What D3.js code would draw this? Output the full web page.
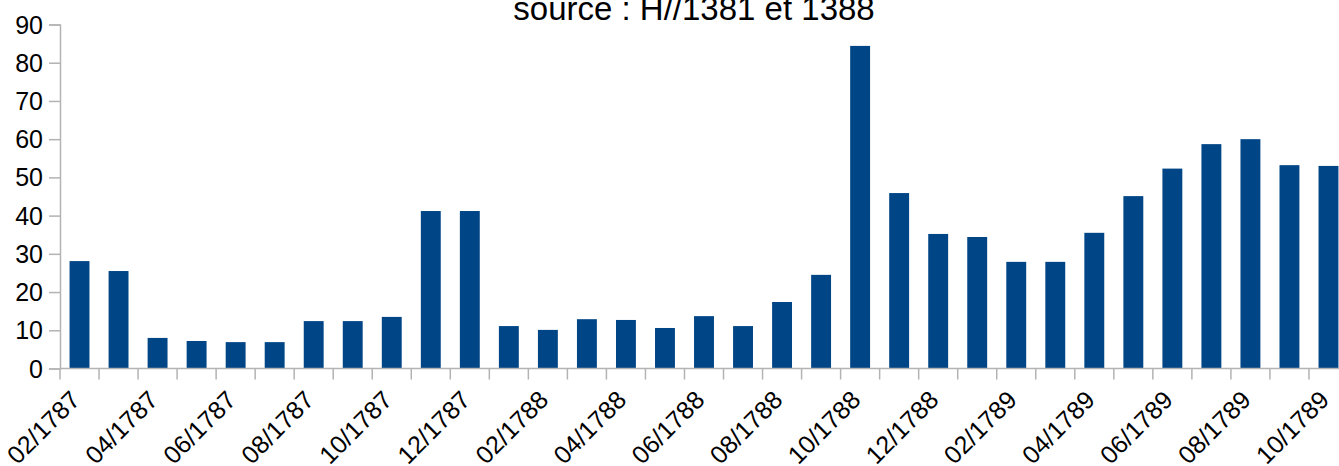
<!DOCTYPE html>
<html><head><meta charset="utf-8">
<script src="https://cdn.jsdelivr.net/npm/d3@7"></script>
<style>body{margin:0;background:#fff;overflow:hidden;} text{font-family:"Liberation Sans",Arial,sans-serif;}</style>
</head><body>
<svg id="c" width="1339" height="466"></svg>
<script>
const months = ["02/1787","03/1787","04/1787","05/1787","06/1787","07/1787","08/1787","09/1787","10/1787","11/1787","12/1787",
"01/1788","02/1788","03/1788","04/1788","05/1788","06/1788","07/1788","08/1788","09/1788","10/1788","11/1788","12/1788",
"01/1789","02/1789","03/1789","04/1789","05/1789","06/1789","07/1789","08/1789","09/1789","10/1789"];
const values = [28.1,25.5,8.0,7.2,6.9,6.9,12.4,12.4,13.5,41.2,41.2,11.1,10.1,12.9,12.7,10.6,13.7,11.1,17.4,24.5,84.4,45.9,35.2,34.4,27.9,27.9,35.5,45.1,52.3,58.7,60.0,53.2,53.0];
const yTicks = [0,10,20,30,40,50,60,70,80,90];
const title = "source : H//1381 et 1388";

const svg = d3.select("#c");
const W = 1339, H = 466;
const plotLeft = 60, plotRight = 1348, plotTop = 24.5, plotBottom = 368.5;
const x = d3.scaleBand().domain(months).range([plotLeft, plotRight]).paddingInner(0.49).paddingOuter(0.245);
const y = d3.scaleLinear().domain([0,90]).range([plotBottom, plotTop]);
const axisColor = "#b3b3b3";

// bars
svg.append("g").selectAll("rect").data(values).join("rect")
  .attr("x",(d,i)=>x(months[i])).attr("width",x.bandwidth())
  .attr("y",d=>y(d)).attr("height",d=>y(0)-y(d)).attr("fill","#004586");

// y axis
const ya = svg.append("g").attr("transform",`translate(${plotLeft},0)`)
  .call(d3.axisLeft(y).tickValues(yTicks).tickSize(11).tickPadding(6));
ya.select(".domain").attr("stroke",axisColor).attr("stroke-width",1.5);
ya.selectAll(".tick line").attr("stroke",axisColor).attr("stroke-width",1.5);
ya.selectAll(".tick text").attr("fill","#000").attr("font-size",25).attr("dy","0.34em").attr("font-family","Liberation Sans, Arial, sans-serif");

// x axis: ticks at band boundaries
const step = (plotRight - plotLeft)/months.length;
const bounds = d3.range(months.length+1).map(i => plotLeft + i*step);
const xa = svg.append("g");
xa.append("line").attr("x1",plotLeft).attr("x2",plotRight).attr("y1",y(0)).attr("y2",y(0)).attr("stroke",axisColor).attr("stroke-width",1.5);
xa.selectAll("line.t").data(bounds).join("line").attr("class","t")
  .attr("x1",d=>d).attr("x2",d=>d).attr("y1",y(0)).attr("y2",y(0)+11).attr("stroke",axisColor).attr("stroke-width",1.5);
xa.selectAll("text").data(months.filter((d,i)=>i%2===0)).join("text")
  .attr("transform",d=>`translate(${x(d)+x.bandwidth()/2+2},${y(0)+33}) rotate(-45)`)
  .attr("text-anchor","end").attr("font-size",25).attr("fill","#000").text(d=>d);

svg.append("text").attr("x",694).attr("y",20).attr("text-anchor","middle").attr("font-size",33).attr("fill","#000").text(title);
</script>
</body></html>
